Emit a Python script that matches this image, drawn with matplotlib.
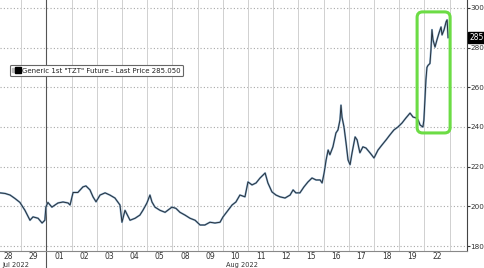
import matplotlib
matplotlib.use("Agg")
import matplotlib.pyplot as plt
import matplotlib.ticker as ticker
from matplotlib.lines import Line2D
from matplotlib.legend_handler import HandlerTuple
from matplotlib.patches import FancyBboxPatch

# trading-day position (0 = Jul 28) and last price
times = [0.16, 0.36, 0.56, 0.75, 0.95, 1.15, 1.35, 1.47, 1.67, 1.83, 1.94, 1.98,
         2.06, 2.22, 2.46, 2.66, 2.86, 2.94, 3.06, 3.25, 3.45, 3.57, 3.73, 3.85,
         3.97, 4.13, 4.33, 4.52, 4.72, 4.92, 5.00, 5.12, 5.32, 5.52, 5.71, 5.83,
         5.99, 6.11, 6.19, 6.31, 6.51, 6.71, 6.98, 7.14, 7.30, 7.50, 7.70, 7.90,
         8.10, 8.29, 8.49, 8.69, 8.89, 9.01, 9.21, 9.37, 9.52, 9.68, 9.88, 10.00,
         10.16, 10.32, 10.48, 10.68, 10.79, 10.95, 11.11, 11.27, 11.47, 11.67, 11.79, 11.90,
         12.06, 12.22, 12.38, 12.54, 12.70, 12.86, 12.94, 13.02, 13.10, 13.18, 13.25, 13.37,
         13.49, 13.57, 13.65, 13.69, 13.73, 13.81, 13.89, 13.97, 14.05, 14.13, 14.25, 14.33,
         14.44, 14.56, 14.68, 14.84, 15.00, 15.16, 15.32, 15.48, 15.63, 15.79, 15.95, 16.11,
         16.27, 16.43, 16.55, 16.67, 16.75, 16.83, 16.94, 16.98, 17.02, 17.06, 17.10, 17.14,
         17.22, 17.26, 17.30, 17.34, 17.42, 17.50, 17.58, 17.66, 17.70, 17.78, 17.86, 17.90,
         17.94]
prices = [206.8, 206.5, 205.7, 204.0, 202.0, 198.0, 193.0, 194.7, 194.0, 191.6, 193.0, 199.6,
          202.0, 199.6, 201.7, 202.2, 201.7, 200.7, 207.0, 207.0, 209.8, 210.3, 208.3, 204.8,
          202.3, 205.7, 206.8, 205.7, 204.2, 200.7, 192.0, 198.0, 193.0, 194.0, 195.6, 198.0,
          201.7, 205.7, 202.2, 199.6, 198.0, 197.0, 199.6, 199.0, 197.0, 195.6, 194.0, 193.0,
          190.6, 190.6, 192.0, 191.6, 192.0, 194.7, 198.0, 200.7, 202.2, 205.7, 204.8, 212.3,
          210.8, 211.8, 214.3, 216.8, 211.8, 207.3, 205.7, 204.8, 204.2, 205.7, 208.3, 206.8,
          206.8, 209.8, 212.3, 214.3, 213.3, 213.3, 211.8, 216.8, 223.4, 228.4, 226.0, 230.0,
          237.0, 238.5, 243.6, 251.0, 245.0, 240.0, 232.0, 223.4, 221.0, 227.0, 235.0, 233.5,
          227.0, 230.0, 229.4, 227.0, 224.4, 228.4, 231.0, 233.5, 236.0, 238.5, 240.0, 242.0,
          244.6, 247.0, 245.0, 244.6, 243.5, 241.0, 240.0, 243.5, 253.6, 263.7, 270.0, 271.0,
          272.0, 278.8, 289.0, 284.0, 280.3, 284.0, 287.4, 290.4, 286.4, 289.0, 293.0, 294.0,
          285.05]

day_labels = ["28", "29", "01", "02", "03", "04", "05", "08", "09", "10",
              "11", "12", "15", "16", "17", "18", "19", "22"]
yticks = [180, 200, 220, 240, 260, 280, 300]
last_price = 285.050
legend_text = 'Generic 1st "TZT" Future - Last Price 285.050'

fig = plt.figure(figsize=(4.85, 2.68), dpi=100)
ax = fig.add_axes([0.0, 17 / 268, 467 / 485, 251 / 268])
ax.set_xlim(0.16, 18.69)
ax.set_ylim(177.5, 304.0)

# grid
for y in yticks:
    ax.axhline(y, color="#a8a8a8", lw=0.8, ls=(0, (1, 2)), zorder=1)
for i in range(len(day_labels) + 1):
    ax.axvline(i, color="#d0d0d0", lw=0.7, zorder=1)
ax.plot([2, 2], [-0.07, 1], color="#555555", lw=0.8,
        transform=ax.get_xaxis_transform(), clip_on=False, zorder=2)

# price line
ax.plot(times, prices, color="#8db0cf", lw=1.4, zorder=3)
ax.plot(times, prices, color="#27313b", lw=0.7, zorder=4)

# highlight box
box = FancyBboxPatch((16.71, 237.0), 18.02 - 16.71, 298.0 - 237.0,
                     boxstyle="round,pad=0,rounding_size=0.22",
                     mutation_aspect=12.7, fc="none", ec="#6cdc45", lw=2.2, zorder=5)
ax.add_patch(box)

# axes styling
for s in ["top", "left"]:
    ax.spines[s].set_visible(False)
ax.spines["right"].set_color("#444444")
ax.spines["right"].set_linewidth(0.8)
ax.spines["bottom"].set_color("#888888")
ax.spines["bottom"].set_linewidth(0.8)

ax.yaxis.tick_right()
ax.set_yticks(yticks)
ax.tick_params(axis="y", which="major", length=2, width=0.8, pad=0.5,
               labelsize=5.2, colors="#333333", direction="out")

ax.xaxis.set_major_locator(ticker.FixedLocator(range(len(day_labels) + 1)))
ax.xaxis.set_major_formatter(ticker.NullFormatter())
ax.xaxis.set_minor_locator(ticker.FixedLocator([i + 0.5 for i in range(len(day_labels))]))
ax.xaxis.set_minor_formatter(ticker.FixedFormatter(day_labels))
ax.tick_params(axis="x", which="both", length=0, pad=0.5, labelsize=5.5, labelcolor="#333333")

fig.text(2 / 485, 0.0, "Jul 2022", ha="left", va="bottom", fontsize=4.8, color="#333333")
fig.text(242 / 485, 0.0, "Aug 2022", ha="center", va="bottom", fontsize=4.8, color="#333333")

# last price tag
ax.annotate(f"{last_price:.3f}", xy=(1.0, last_price),
            xycoords=ax.get_yaxis_transform(), xytext=(1.5, 0), textcoords="offset points",
            ha="left", va="center", fontsize=5.5, color="white",
            bbox=dict(boxstyle="square,pad=0.15", fc="black", ec="black"),
            annotation_clip=False)

# legend
h_small = Line2D([], [], marker="s", ls="", color="#bbbbbb", markersize=2.5)
h_big = Line2D([], [], marker="s", ls="", color="black", markersize=4.5)
leg = ax.legend([(h_small, h_big)], [legend_text],
                handler_map={tuple: HandlerTuple(ndivide=None, pad=0.1)},
                loc="upper left", bbox_to_anchor=(0.021, 0.742), borderaxespad=0,
                fontsize=5, handlelength=1.0, handletextpad=0.3, borderpad=0.4,
                frameon=True, fancybox=True, edgecolor="#666666", framealpha=1)
leg.get_frame().set_linewidth(0.8)
for t in leg.get_texts():
    t.set_color("#222222")

fig.savefig("out.png", dpi=100)
